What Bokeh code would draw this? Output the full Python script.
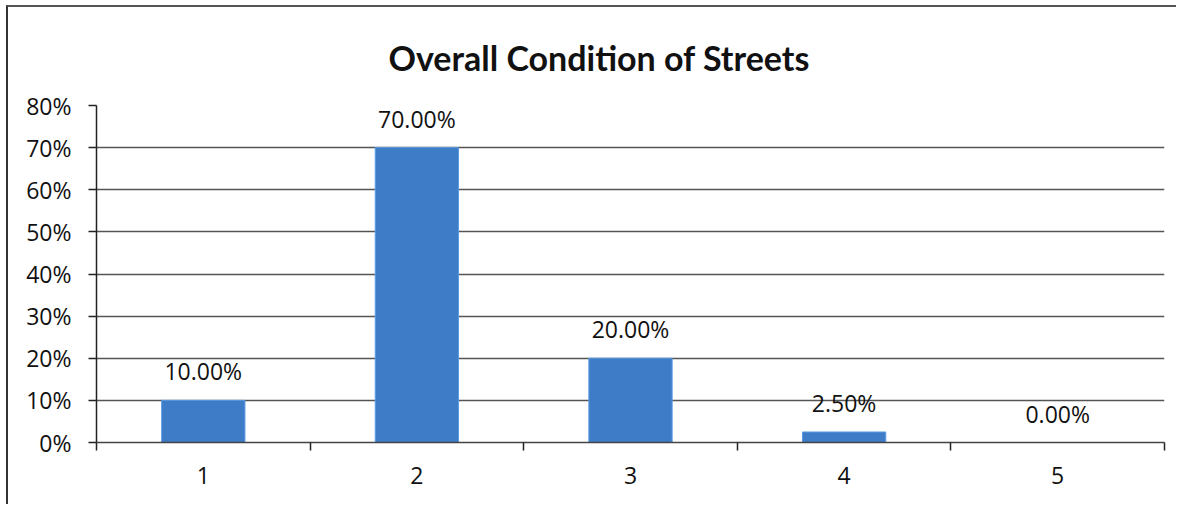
from bokeh.plotting import figure
from bokeh.models import ColumnDataSource, FixedTicker, NumeralTickFormatter, Range1d, LabelSet, Title
from bokeh.core.properties import value
from bokeh.embed import file_html
from bokeh.resources import INLINE

categories = ["1", "2", "3", "4", "5"]
values = [0.10, 0.70, 0.20, 0.025, 0.0]
labels = ["10.00%", "70.00%", "20.00%", "2.50%", "0.00%"]
y_ticks = [0, 0.1, 0.2, 0.3, 0.4, 0.5, 0.6, 0.7, 0.8]

xs = [int(c) for c in categories]
src = ColumnDataSource(dict(x=xs, top=values, label=labels))

p = figure(width=1170, height=499, output_backend="svg", toolbar_location=None,
           x_range=Range1d(0.5, 5.5), y_range=Range1d(0, 0.8),
           min_border_left=88, min_border_right=14, min_border_top=98, min_border_bottom=64)
p.title = Title(text="Overall Condition of Streets", align="left", offset=292, text_font="Lato",
                text_font_size="34px", text_font_style="bold", text_color="#111111", standoff=55)

p.vbar(x="x", top="top", width=0.39, bottom=0, source=src,
       fill_color="#3E7CC8", line_color="#5A9BE3", line_width=1)

p.add_layout(LabelSet(x="x", y="top", text="label", source=src, text_align="center",
                      text_baseline="bottom", y_offset=13, text_font=value("Open Sans"),
                      text_font_size=value("23px"), text_color="#111111"))

p.outline_line_color = None
p.background_fill_color = "white"
p.border_fill_color = "white"

p.xgrid.grid_line_color = None
p.ygrid.grid_line_color = "#555555"
p.ygrid.grid_line_width = 1.5
p.ygrid.ticker = FixedTicker(ticks=y_ticks)

xt = FixedTicker(ticks=xs, minor_ticks=[0.5, 1.5, 2.5, 3.5, 4.5, 5.5])
p.xaxis.ticker = xt
p.xaxis.major_tick_out = 0
p.xaxis.major_tick_in = 0
p.xaxis.minor_tick_out = 8
p.xaxis.minor_tick_in = 0
p.xaxis.minor_tick_line_color = "#222222"
p.xaxis.minor_tick_line_width = 1.5
p.xaxis.axis_line_color = "#444444"
p.xaxis.axis_line_width = 1.5
p.xaxis.major_label_standoff = 16
p.xaxis.major_label_text_font = "Open Sans"
p.xaxis.major_label_text_font_size = "23px"
p.xaxis.major_label_text_color = "#111111"

p.yaxis.ticker = FixedTicker(ticks=y_ticks)
p.yaxis.formatter = NumeralTickFormatter(format="0%")
p.yaxis.major_tick_out = 8
p.yaxis.major_tick_in = 0
p.yaxis.minor_tick_out = 0
p.yaxis.minor_tick_in = 0
p.yaxis.major_tick_line_color = "#222222"
p.yaxis.major_tick_line_width = 1.5
p.yaxis.axis_line_color = "#222222"
p.yaxis.axis_line_width = 1.5
p.yaxis.major_label_standoff = 17
p.yaxis.major_label_text_font = "Open Sans"
p.yaxis.major_label_text_font_size = "23px"
p.yaxis.major_label_text_color = "#111111"

p.styles = {"margin-left": "6px", "margin-top": "5px",
            "border-left": "2px solid #333333", "border-top": "2px solid #555555"}

open("out.html", "w").write(file_html(p, INLINE))
